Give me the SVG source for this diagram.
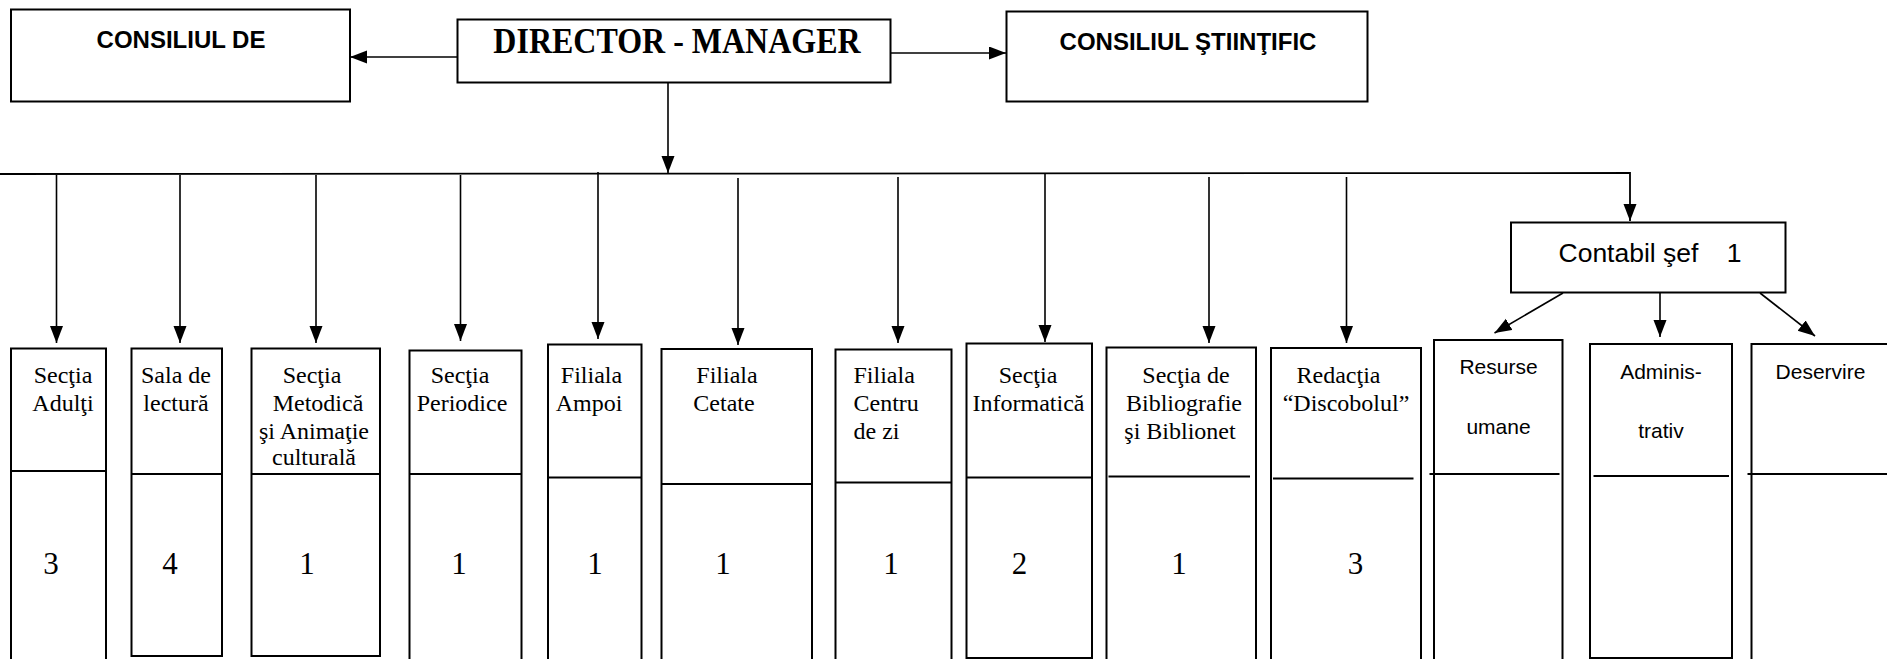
<svg xmlns="http://www.w3.org/2000/svg" width="1887" height="659" viewBox="0 0 1887 659">
<style>
.box{fill:#fff;stroke:#000;stroke-width:2}
.ln{fill:none;stroke:#000;stroke-width:1.8}
.cn{fill:none;stroke:#000;stroke-width:1.6}
.sb{font-family:"Liberation Sans",Arial,sans-serif;font-weight:bold;font-size:24px;text-anchor:middle}
.s{font-family:"Liberation Sans",Arial,sans-serif;font-size:21px;text-anchor:middle}
.t{font-family:"Liberation Serif","Times New Roman",serif;font-size:24px;text-anchor:middle}
.tl{font-family:"Liberation Serif","Times New Roman",serif;font-size:24px}
.d{font-family:"Liberation Serif","Times New Roman",serif;font-size:31px;text-anchor:middle}
</style>
<defs>
<marker id="ah" markerUnits="userSpaceOnUse" markerWidth="18" markerHeight="14" refX="17" refY="6.5" orient="auto">
<path d="M0,0 L17,6.5 L0,13 z" fill="#000"/>
</marker>
</defs>
<rect width="1887" height="659" fill="#fff"/>

<g id="connectors">
<line class="cn" x1="457" y1="57" x2="350" y2="57" marker-end="url(#ah)"/>
<line class="cn" x1="891" y1="53" x2="1006" y2="53" marker-end="url(#ah)"/>
<line class="cn" x1="668" y1="83" x2="668" y2="173" marker-end="url(#ah)"/>
<polyline class="ln" points="0,174 1630,173 1630,221" marker-end="url(#ah)"/>
<line class="cn" x1="56.5" y1="175" x2="56.5" y2="343" marker-end="url(#ah)"/>
<line class="cn" x1="180" y1="175" x2="180" y2="343" marker-end="url(#ah)"/>
<line class="cn" x1="316" y1="175" x2="316" y2="343" marker-end="url(#ah)"/>
<line class="cn" x1="460.5" y1="175" x2="460.5" y2="341" marker-end="url(#ah)"/>
<line class="cn" x1="598" y1="172" x2="598" y2="339" marker-end="url(#ah)"/>
<line class="cn" x1="738" y1="178" x2="738" y2="345" marker-end="url(#ah)"/>
<line class="cn" x1="898" y1="177" x2="898" y2="343" marker-end="url(#ah)"/>
<line class="cn" x1="1045" y1="174" x2="1045" y2="342" marker-end="url(#ah)"/>
<line class="cn" x1="1209" y1="177" x2="1209" y2="343" marker-end="url(#ah)"/>
<line class="cn" x1="1346.5" y1="177" x2="1346.5" y2="343" marker-end="url(#ah)"/>
<line class="cn" x1="1563" y1="293" x2="1494.5" y2="333" marker-end="url(#ah)"/>
<line class="cn" x1="1660" y1="293" x2="1660" y2="337" marker-end="url(#ah)"/>
<line class="cn" x1="1760" y1="293" x2="1815" y2="336" marker-end="url(#ah)"/>
</g>

<g id="consiliul-de">
<rect class="box" x="11" y="9.5" width="339" height="92"/>
<text class="sb" x="181" y="48">CONSILIUL DE</text>
</g>

<g id="director">
<rect class="box" x="457.5" y="19.5" width="433" height="63"/>
<text font-family="Liberation Serif,'Times New Roman',serif" font-weight="bold" font-size="32" text-anchor="middle" transform="translate(677,53) scale(1,1.15)">DIRECTOR - MANAGER</text>
</g>

<g id="consiliul-stiintific">
<rect class="box" x="1006.5" y="11.5" width="361" height="90"/>
<text class="sb" x="1188" y="50">CONSILIUL ŞTIINŢIFIC</text>
</g>

<g id="contabil">
<rect class="box" x="1511" y="222.5" width="274.5" height="70"/>
<text font-family="Liberation Sans,Arial,sans-serif" font-size="26.5" x="1558.5" y="262">Contabil şef</text>
<text font-family="Liberation Sans,Arial,sans-serif" font-size="26.5" text-anchor="middle" x="1734" y="262">1</text>
</g>

<g id="sectia-adulti">
<rect class="box" x="11" y="348.5" width="95" height="330"/>
<line class="ln" x1="11" y1="471" x2="106" y2="471"/>
<text class="t" x="63" y="383">Secţia</text>
<text class="t" x="63" y="411">Adulţi</text>
<text class="d" x="51" y="574">3</text>
</g>

<g id="sala-lectura">
<rect class="box" x="131.5" y="348.5" width="90.5" height="307.5"/>
<line class="ln" x1="131.5" y1="474" x2="222" y2="474"/>
<text class="t" x="176" y="383">Sala de</text>
<text class="t" x="176" y="411">lectură</text>
<text class="d" x="170" y="574">4</text>
</g>

<g id="sectia-metodica">
<rect class="box" x="251.5" y="348.5" width="128.5" height="307.5"/>
<line class="ln" x1="251.5" y1="474" x2="380" y2="474"/>
<text class="t" x="312" y="383">Secţia</text>
<text class="t" x="318" y="411">Metodică</text>
<text class="t" x="314" y="438.5">şi Animaţie</text>
<text class="t" x="314" y="465">culturală</text>
<text class="d" x="307" y="574">1</text>
</g>

<g id="sectia-periodice">
<rect class="box" x="409.5" y="350.5" width="112" height="330"/>
<line class="ln" x1="409.5" y1="474" x2="521.5" y2="474"/>
<text class="t" x="460" y="383">Secţia</text>
<text class="t" x="462" y="411">Periodice</text>
<text class="d" x="459" y="574">1</text>
</g>

<g id="filiala-ampoi">
<rect class="box" x="548" y="344.5" width="93.5" height="330"/>
<line class="ln" x1="548" y1="477.5" x2="641.5" y2="477.5"/>
<text class="t" x="591.5" y="383">Filiala</text>
<text class="t" x="589" y="411">Ampoi</text>
<text class="d" x="595" y="574">1</text>
</g>

<g id="filiala-cetate">
<rect class="box" x="661.5" y="349" width="150.5" height="330"/>
<line class="ln" x1="661.5" y1="484" x2="812" y2="484"/>
<text class="t" x="727" y="383">Filiala</text>
<text class="t" x="724" y="411">Cetate</text>
<text class="d" x="723" y="574">1</text>
</g>

<g id="filiala-centru">
<rect class="box" x="835.5" y="349.5" width="116" height="330"/>
<line class="ln" x1="835.5" y1="482.5" x2="951.5" y2="482.5"/>
<text class="tl" x="853.5" y="383">Filiala</text>
<text class="tl" x="853.5" y="411">Centru</text>
<text class="tl" x="853.5" y="438.5">de zi</text>
<text class="d" x="891" y="574">1</text>
</g>

<g id="sectia-informatica">
<rect class="box" x="966.5" y="343.5" width="125.5" height="314.5"/>
<line class="ln" x1="966.5" y1="477.5" x2="1092" y2="477.5"/>
<text class="t" x="1028" y="383">Secţia</text>
<text class="t" x="1028.5" y="411">Informatică</text>
<text class="d" x="1019.5" y="574">2</text>
</g>

<g id="sectia-bibliografie">
<rect class="box" x="1106.5" y="347.5" width="149.5" height="330"/>
<line class="ln" x1="1108.5" y1="476.5" x2="1250" y2="476.5"/>
<text class="t" x="1186" y="383">Secţia de</text>
<text class="t" x="1184" y="411">Bibliografie</text>
<text class="t" x="1180" y="438.5">şi Biblionet</text>
<text class="d" x="1179" y="574">1</text>
</g>

<g id="redactia">
<rect class="box" x="1271" y="348" width="150" height="330"/>
<line class="ln" x1="1273" y1="478.5" x2="1413.5" y2="478.5"/>
<text class="t" x="1338.5" y="383">Redacţia</text>
<text class="t" x="1346" y="411">“Discobolul”</text>
<text class="d" x="1355.5" y="574">3</text>
</g>

<g id="resurse-umane">
<rect class="box" x="1434" y="340" width="128.5" height="340"/>
<line class="ln" x1="1429.5" y1="474" x2="1559.5" y2="474"/>
<text class="s" x="1498.5" y="374">Resurse</text>
<text class="s" x="1498.5" y="433.5">umane</text>
</g>

<g id="administrativ">
<rect class="box" x="1590" y="344" width="142" height="314"/>
<line class="ln" x1="1593.5" y1="476" x2="1729" y2="476"/>
<text class="s" x="1661" y="378.5">Adminis-</text>
<text class="s" x="1661" y="438">trativ</text>
</g>

<g id="deservire">
<rect class="box" x="1751.5" y="344" width="160" height="340"/>
<line class="ln" x1="1747.5" y1="474" x2="1887" y2="474"/>
<text class="s" x="1820.5" y="378.5">Deservire</text>
</g>
</svg>
